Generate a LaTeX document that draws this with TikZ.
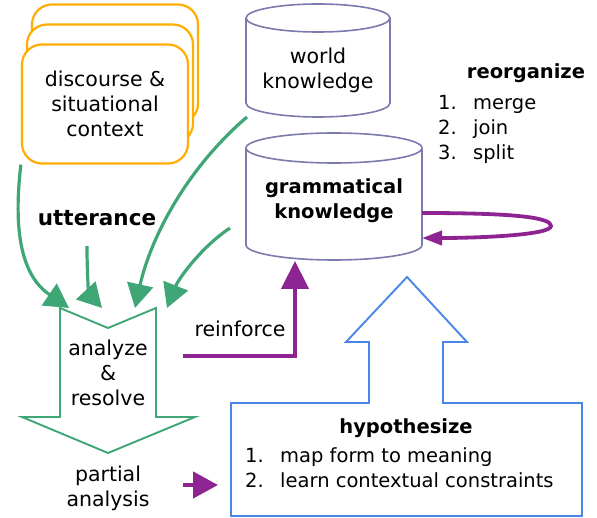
\documentclass[tikz,border=0pt]{standalone}
\usepackage{fontspec}
\setmainfont{DejaVu Sans}
\usepackage{xcolor}
\usetikzlibrary{arrows.meta, positioning, calc}
\definecolor{ctxorange}{HTML}{FFAD00}
\definecolor{flowgreen}{HTML}{3FA676}
\definecolor{loopviolet}{HTML}{8E2392}
\definecolor{hypblue}{HTML}{4A86E8}
\definecolor{cylgray}{HTML}{7A7AAE}
\newcommand{\numitem}[2]{\makebox[35pt][l]{#1}#2}

\begin{document}
\begin{tikzpicture}[
    x=1pt, y=-1pt,
    ctxbox/.style={draw=ctxorange, line width=2.2pt, fill=white, rounded corners=20pt, minimum width=166pt, minimum height=119pt, align=center, font=\fontsize{20.5}{25}\selectfont},
    store/.style={draw=cylgray, line width=1.6pt, fill=white},
    txt/.style={align=center, font=\fontsize{20.5}{25}\selectfont, inner sep=0pt},
    heading/.style={font=\fontsize{19.5}{25}\selectfont\bfseries, inner sep=0pt, align=center},
    listtxt/.style={align=left, font=\fontsize{19.5}{25}\selectfont, inner sep=0pt, anchor=west},
    flow/.style={-{Triangle[length=24pt, width=26pt]}, flowgreen, line width=3.2pt},
    update/.style={-{Triangle[length=28pt, width=27pt]}, loopviolet, line width=4.5pt},
    blockarrow/.style={line width=1.9pt, fill=white}
]
\useasboundingbox (0,0) rectangle (597,518);

% Context stack
\node[ctxbox] (ctxback) at (115,64) {};
\node[ctxbox] (ctxmid) at (110,84) {};
\node[ctxbox] (ctx) at (105,104) {discourse \&\\situational\\context};

% World knowledge store
\draw[store] (246,18) -- (246,103) arc[start angle=180, end angle=0, x radius=72, y radius=14] -- (390,18) arc[start angle=0, end angle=-180, x radius=72, y radius=14] -- cycle;
\draw[store] (246,18) arc[start angle=180, end angle=0, x radius=72, y radius=14];
\node[txt] (wk) at (318,70) {world\\knowledge};
\coordinate (wk-foot) at (247,117);

% Grammatical knowledge store
\draw[store] (246,148) -- (246,245) arc[start angle=180, end angle=0, x radius=88, y radius=15] -- (422,148) arc[start angle=0, end angle=-180, x radius=88, y radius=15] -- cycle;
\draw[store] (246,148) arc[start angle=180, end angle=0, x radius=88, y radius=15];
\node[heading] (gk) at (334,201) {grammatical\\knowledge};
\coordinate (gk-out) at (422,213);
\coordinate (gk-in) at (422,238);
\coordinate (gk-foot) at (295,261);
\coordinate (gk-side) at (230,228);

% Reorganize
\node[heading] (reorg) at (526,73) {reorganize};
\node[listtxt] (reorglist) at (438,129) {\numitem{1.}{merge}\\\numitem{2.}{join}\\\numitem{3.}{split}};
\draw[update, -{Triangle[length=20pt, width=14pt]}, line width=3.8pt] (gk-out) .. controls (520,213) and (551,218) .. (551,226) .. controls (551,235) and (480,238) .. (gk-in);

% Utterance
\node[heading, font=\fontsize{21.5}{25}\selectfont\bfseries] (utt) at (97,218) {utterance};

% Analyze & resolve
\draw[blockarrow, draw=flowgreen] (60,308) coordinate (ar-tl) -- (108,328) -- (156,308) coordinate (ar-tr) -- (156,417) -- (195,417) -- (108,453) -- (22,417) -- (60,417) -- cycle;
\node[txt] (ar) at (108,373) {analyze\\\&\\resolve};
\coordinate (ar-out) at (183,356);

% Inputs
\draw[flow] (ctx.south west) .. controls (12,240) and (25,278) .. (69,308);
\draw[flow] ($(utt.south)+(-10,20)$) .. controls (87,285) and (90,295) .. (102,308);
\draw[flow] (wk-foot) .. controls (185,170) and (150,240) .. (135,308);
\draw[flow] (gk-side) .. controls (200,248) and (178,280) .. (167,308);

% Reinforce
\node[txt] (reinf) at (240,329) {reinforce};
\draw[update] (ar-out) -| (gk-foot);

% Partial analysis
\node[txt] (pa) at (108,488) {partial\\analysis};
\coordinate (pa-out) at (183,485);
\coordinate (hyp-in) at (218,485);
\draw[update, -{Triangle[length=25pt, width=26pt]}] (pa-out) -- (hyp-in);

% Hypothesize
\draw[blockarrow, draw=hypblue] (231,403) -- (369,403) -- (369,342) -- (346,342) -- (407,277) -- (467,342) -- (443,342) -- (443,403) -- (582,403) -- (582,516) -- (231,516) -- cycle;
\node[heading] (hyp) at (406,428) {hypothesize};
\node[listtxt] (hyplist) at (245,468) {\numitem{1.}{map form to meaning}\\\numitem{2.}{learn contextual constraints}};

\end{tikzpicture}
\end{document}
